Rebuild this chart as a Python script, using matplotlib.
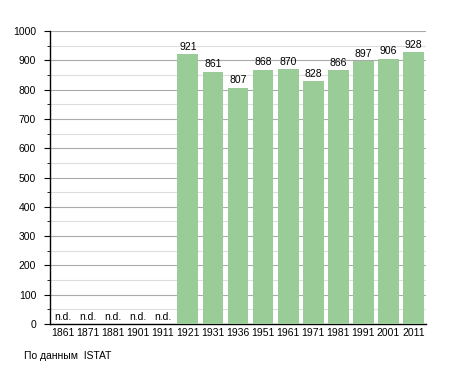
import matplotlib
matplotlib.use("Agg")
import matplotlib.pyplot as plt
import numpy as np

years = ["1861", "1871", "1881", "1901", "1911", "1921", "1931", "1936", "1951",
         "1961", "1971", "1981", "1991", "2001", "2011"]
values = [None, None, None, None, None, 921, 861, 807, 868, 870, 828, 866, 897, 906, 928]
yticks = list(range(0, 1001, 100))
source = "По данным  ISTAT"

plt.rcParams['font.family'] = ['Liberation Sans', 'DejaVu Sans']
fs = 7.5
fig = plt.figure(figsize=(4.55, 3.73), dpi=100)
ax = fig.add_axes([50/455, 1-324/373, 376/455, 293/373])

x = np.arange(len(years))
for i, v in enumerate(values):
    if v is None:
        ax.text(i, 8, "n.d.", ha='center', va='bottom', fontsize=fs)
    else:
        ax.bar(i, v, width=0.83, color='#99cc96', zorder=3)
        ax.text(i, v + 8, str(v), ha='center', va='bottom', fontsize=fs)

ax.set_xlim(-0.5, len(years) - 0.5)
ax.set_ylim(0, 1000)
ax.set_yticks(yticks)
ax.set_yticks(range(50, 1000, 100), minor=True)
ax.set_xticks(x)
ax.set_xticklabels(years)
ax.tick_params(axis='x', length=0, labelsize=fs, pad=3)
ax.tick_params(axis='y', which='major', length=4, labelsize=fs, pad=6)
ax.tick_params(axis='y', which='minor', length=2)
ax.grid(axis='y', which='major', color='#aaaaaa', linewidth=0.8, zorder=0)
ax.grid(axis='y', which='minor', color='#dddddd', linewidth=0.8, zorder=0)
for s in ['top', 'right']:
    ax.spines[s].set_visible(False)
ax.spines['left'].set_linewidth(1)
ax.spines['bottom'].set_linewidth(1)
fig.text(24/455, 1-356/373, source, fontsize=fs, va='center', ha='left')
fig.savefig("out.png", dpi=100)
